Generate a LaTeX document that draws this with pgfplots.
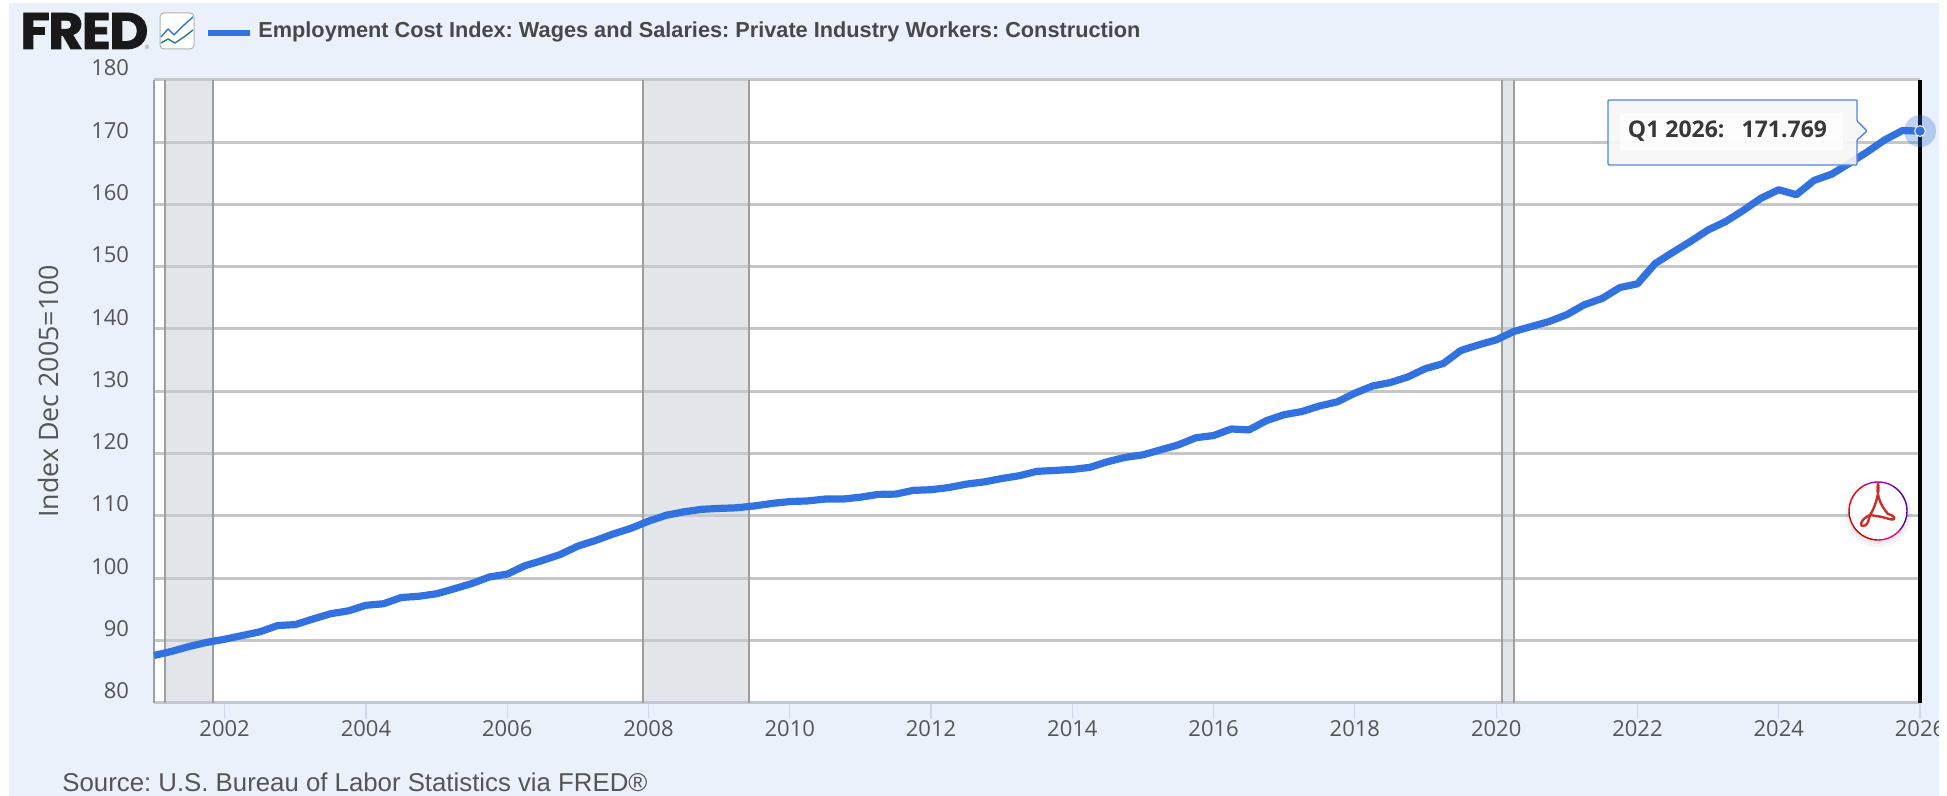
\documentclass[border=0pt]{standalone}
\usepackage{pgfplots}
\usepackage{pgfplotstable}
\pgfplotsset{compat=1.18}
\usepackage{fontspec}
\setmainfont{Open Sans}
\newfontfamily\robo{Liberation Sans}
\newfontfamily\pop[LetterSpace=-3,BoldFeatures={FakeBold=1.5}]{Poppins}
\definecolor{panel}{HTML}{EAF1FA}
\definecolor{gridc}{HTML}{C6C6C6}
\definecolor{rec}{HTML}{C7CFD7}
\definecolor{recl}{HTML}{9E9E9E}
\definecolor{ser}{HTML}{3272E0}
\definecolor{txt}{HTML}{555555}
\definecolor{ttl}{HTML}{484848}
\definecolor{tk}{HTML}{D0D9EA}
\definecolor{acro}{HTML}{C8302A}
\pgfplotstableread{
x y
2001.00 87.6
2001.25 88.25
2001.50 89.05
2001.75 89.7
2002.00 90.2
2002.25 90.8
2002.50 91.4
2002.75 92.4
2003.00 92.55
2003.25 93.45
2003.50 94.3
2003.75 94.75
2004.00 95.65
2004.25 95.9
2004.50 96.9
2004.75 97.1
2005.00 97.5
2005.25 98.3
2005.50 99.15
2005.75 100.2
2006.00 100.65
2006.25 102.0
2006.50 102.85
2006.75 103.8
2007.00 105.15
2007.25 106.05
2007.50 107.1
2007.75 108.0
2008.00 109.15
2008.25 110.1
2008.50 110.65
2008.75 111.05
2009.00 111.2
2009.25 111.3
2009.50 111.6
2009.75 112.0
2010.00 112.3
2010.25 112.4
2010.50 112.7
2010.75 112.7
2011.00 113.0
2011.25 113.45
2011.50 113.5
2011.75 114.1
2012.00 114.2
2012.25 114.55
2012.50 115.1
2012.75 115.45
2013.00 116.0
2013.25 116.45
2013.50 117.15
2013.75 117.3
2014.00 117.45
2014.25 117.8
2014.50 118.7
2014.75 119.4
2015.00 119.8
2015.25 120.6
2015.50 121.4
2015.75 122.55
2016.00 122.9
2016.25 123.95
2016.50 123.8
2016.75 125.3
2017.00 126.25
2017.25 126.75
2017.50 127.65
2017.75 128.3
2018.00 129.7
2018.25 130.85
2018.50 131.4
2018.75 132.3
2019.00 133.65
2019.25 134.45
2019.50 136.55
2019.75 137.45
2020.00 138.25
2020.25 139.6
2020.50 140.4
2020.75 141.2
2021.00 142.3
2021.25 143.9
2021.50 144.9
2021.75 146.65
2022.00 147.25
2022.25 150.5
2022.50 152.3
2022.75 154.05
2023.00 155.9
2023.25 157.25
2023.50 159.05
2023.75 161.0
2024.00 162.35
2024.25 161.55
2024.50 163.85
2024.75 164.85
2025.00 166.6
2025.25 168.4
2025.50 170.35
2025.75 171.85
2026.00 171.769
}\eci
\begin{document}
\frenchspacing
\begin{tikzpicture}
\useasboundingbox (0pt,0pt) rectangle (973.5pt,398pt);
\begin{scope}[x=0.5pt,y=-0.5pt,yshift=398pt]
\fill[panel] (9,3) rectangle (1947,796);
\end{scope}
\begin{axis}[
  at={(77pt,46.6pt)},anchor=south west,
  scale only axis,width=883pt,height=311.5pt,
  xmin=2001,xmax=2026,ymin=80,ymax=180,
  clip=false,
  axis background/.style={fill=white},
  axis line style={draw=none},
  xtick={2002,2004,...,2026},
  ytick={80,90,...,180},
  xtick pos=bottom,
  ytick pos=left,
  xticklabel style={/pgf/number format/1000 sep={},text=txt,font=\fontsize{11}{13}\selectfont,anchor=north,inner sep=0pt,yshift=-0.6pt},
  yticklabel style={text=txt,font=\fontsize{11}{13}\selectfont,anchor=east,inner sep=0pt,xshift=-4.3pt,yshift=5.9pt},
  /pgf/number format/assume math mode=true,
  tick align=outside,
  major tick length=8pt,
  xtick style={draw=tk,line width=0.6pt},
  ytick style={draw=none},
  ymajorgrids,
  grid style={draw=gridc,line width=1.5pt},
  ylabel={Index Dec 2005=100},
  every axis y label/.style={at={(rel axis cs:0,0.5)},rotate=90,anchor=center,yshift=53pt,text=txt,font=\fontsize{13.4}{15}\selectfont},
]
\addplot[gridc,line width=1.5pt,forget plot] coordinates {(2001,180)(2026,180)};
\addplot[tk!80!gray,line width=1pt,forget plot] coordinates {(2001,80)(2026,80)};
\addplot[fill=rec,fill opacity=0.5,draw=none,forget plot] coordinates {(2001.16,80)(2001.16,180)(2001.83,180)(2001.83,80)} --cycle;
\addplot[fill=rec,fill opacity=0.5,draw=none,forget plot] coordinates {(2007.92,80)(2007.92,180)(2009.42,180)(2009.42,80)} --cycle;
\addplot[fill=rec,fill opacity=0.5,draw=none,forget plot] coordinates {(2020.08,80)(2020.08,180)(2020.25,180)(2020.25,80)} --cycle;
\addplot[recl,line width=1pt,forget plot] coordinates {(2001,80)(2001,180)};
\addplot[recl,line width=1pt,forget plot] coordinates {(2001.16,80)(2001.16,180)};
\addplot[recl,line width=1pt,forget plot] coordinates {(2001.83,80)(2001.83,180)};
\addplot[recl,line width=1pt,forget plot] coordinates {(2007.92,80)(2007.92,180)};
\addplot[recl,line width=1pt,forget plot] coordinates {(2009.42,80)(2009.42,180)};
\addplot[recl,line width=1pt,forget plot] coordinates {(2020.08,80)(2020.08,180)};
\addplot[recl,line width=1pt,forget plot] coordinates {(2020.25,80)(2020.25,180)};
\addplot[black,line width=1.6pt,forget plot] coordinates {(2026,80)(2026,180)};
\addplot[ser,line width=3.6pt,line join=round,forget plot] table[x=x,y=y] {\eci};
\addplot[only marks,color=ser,mark=*,mark size=8pt,opacity=0.3,mark options={draw=ser,draw opacity=0,fill=ser,fill opacity=0.3},forget plot] coordinates {(2026,171.769)};
\addplot[only marks,color=ser,mark=*,mark size=2.7pt,mark options={draw=white,line width=0.5pt,fill=ser},forget plot] coordinates {(2026,171.769)};
\end{axis}
\begin{scope}[x=0.5pt,y=-0.5pt,yshift=398pt]
\node[anchor=base west,inner sep=0,text=black!90] at (20,49) {\resizebox{64pt}{18pt}{\pop\bfseries FRED}};
\node[anchor=center,inner sep=0,text=gray] at (147,47) {\fontsize{3}{3}\selectfont\robo®};
\draw[gray!60,fill=white,rounded corners=2pt,line width=0.5pt] (160,13) rectangle (194,49);
\draw[ser,line width=0.7pt,line join=round] (161,37)--(168,29)--(174,35)--(184,25)--(193,17);
\draw[teal!70!gray,line width=0.7pt,line join=round] (161,43)--(168,39)--(175,43)--(184,37)--(193,30);
\draw[ser,line width=2.6pt] (208,33)--(250,33);
\node[anchor=base west,inner sep=0,text=ttl] at (258,38) {\resizebox{441pt}{!}{\robo\bfseries Employment Cost Index: Wages and Salaries: Private Industry Workers: Construction}};
\node[anchor=base west,inner sep=0,text=txt] at (62,792) {\resizebox{292.5pt}{!}{\robo Source: U.S. Bureau of Labor Statistics via FRED®}};
% tooltip
\draw[ser!85!white,fill=black!3,fill opacity=0.9,line width=0.7pt,rounded corners=0.5pt]
  (1608,100)--(1857,100)--(1857,121)--(1867,131)--(1857,140)--(1857,165)--(1608,165)--cycle;
\fill[white,opacity=0.7] (1620,113) rectangle (1843,150);
\node[anchor=center,inner sep=0,text=black!78] at (1727.5,131) {\fontsize{11.5}{13}\selectfont\bfseries Q1 2026:\hspace{0.75em}171.769};
% pdf button
\fill[black,opacity=0.04] (1878,514) circle (33);
\fill[black,opacity=0.04] (1878,513) circle (31);
\fill[white] (1878,511) circle (29);
\draw[red!80!black,line width=0.7pt] ([shift={(1878,511)}]90:29) arc (90:180:29);
\draw[magenta!75!red,line width=0.7pt] ([shift={(1878,511)}]40:29) arc (40:90:29);
\draw[violet!75!blue,line width=0.7pt] ([shift={(1878,511)}]-60:29) arc (-60:40:29);
\draw[violet!60!magenta,line width=0.7pt] ([shift={(1878,511)}]-120:29) arc (-120:-60:29);
\draw[red!70!purple,line width=0.7pt] ([shift={(1878,511)}]180:29) arc (180:240:29);
\draw[acro,line width=1.2pt,line join=round]
  (1866,525) .. controls (1858,529) and (1860,519) .. (1870,515)
  .. controls (1876,506) and (1880,490) .. (1878,483)
  .. controls (1876,494) and (1880,505) .. (1888,514)
  .. controls (1896,516) and (1897,521) .. (1889,519)
  .. controls (1880,516) and (1875,516) .. (1870,515)
  .. controls (1869,519) and (1868,523) .. (1866,525) -- cycle;
\fill[white] (1939,0) rectangle (1947,796);
\end{scope}
\end{tikzpicture}
\end{document}
